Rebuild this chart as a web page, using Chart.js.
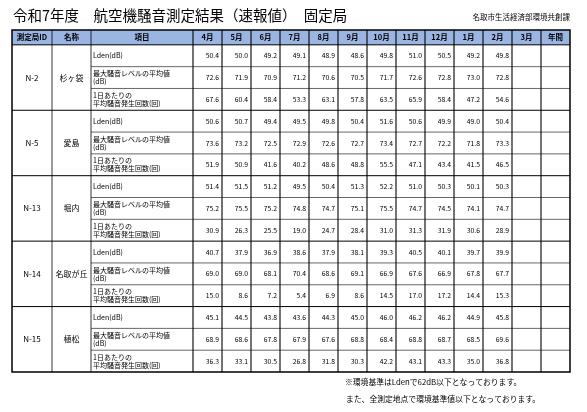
<!DOCTYPE html>
<html lang="ja">
<head>
<meta charset="UTF-8">
<title>航空機騒音測定結果</title>
<script src="https://cdn.jsdelivr.net/npm/chart.js"></script>
<style>
  body { margin: 0; background: #fff; }
  canvas { display: block; }
</style>
</head>
<body>
<canvas id="tbl" width="587" height="412"></canvas>
<script>
const title = '令和7年度　航空機騒音測定結果（速報値）　固定局';
const dept = '名取市生活経済部環境共創課';
const headers = ['測定局ID', '名称', '項目', '4月', '5月', '6月', '7月', '8月', '9月', '10月', '11月', '12月', '1月', '2月', '3月', '年間'];
const stationIds = ['N-2', 'N-5', 'N-13', 'N-14', 'N-15'];
const stationNames = ['杉ヶ袋', '愛島', '堀内', '名取が丘', '植松'];
const items = [['Lden(dB)'], ['最大騒音レベルの平均値', '(dB)'], ['1日あたりの', '平均騒音発生回数(回)']];
const notes = ['※環境基準はLdenで62dB以下となっております。', 'また、全測定地点で環境基準値以下となっております。'];

const lden = [
  [50.4, 50.0, 49.2, 49.1, 48.9, 48.6, 49.8, 51.0, 50.5, 49.2, 49.8],
  [50.6, 50.7, 49.4, 49.5, 49.8, 50.4, 51.6, 50.6, 49.9, 49.0, 50.4],
  [51.4, 51.5, 51.2, 49.5, 50.4, 51.3, 52.2, 51.0, 50.3, 50.1, 50.3],
  [40.7, 37.9, 36.9, 38.6, 37.9, 38.1, 39.3, 40.5, 40.1, 39.7, 39.9],
  [45.1, 44.5, 43.8, 43.6, 44.3, 45.0, 46.0, 46.2, 46.2, 44.9, 45.8]
];
const maxLevel = [
  [72.6, 71.9, 70.9, 71.2, 70.6, 70.5, 71.7, 72.6, 72.8, 73.0, 72.8],
  [73.6, 73.2, 72.5, 72.9, 72.6, 72.7, 73.4, 72.7, 72.2, 71.8, 73.3],
  [75.2, 75.5, 75.2, 74.8, 74.7, 75.1, 75.5, 74.7, 74.5, 74.1, 74.7],
  [69.0, 69.0, 68.1, 70.4, 68.6, 69.1, 66.9, 67.6, 66.9, 67.8, 67.7],
  [68.9, 68.6, 67.8, 67.9, 67.6, 68.8, 68.4, 68.8, 68.7, 68.5, 69.6]
];
const dailyCount = [
  [67.6, 60.4, 58.4, 53.3, 63.1, 57.8, 63.5, 65.9, 58.4, 47.2, 54.6],
  [51.9, 50.9, 41.6, 40.2, 48.6, 48.8, 55.5, 47.1, 43.4, 41.5, 46.5],
  [30.9, 26.3, 25.5, 19.0, 24.7, 28.4, 31.0, 31.3, 31.9, 30.6, 28.9],
  [15.0, 8.6, 7.2, 5.4, 6.9, 8.6, 14.5, 17.0, 17.2, 14.4, 15.3],
  [36.3, 33.1, 30.5, 26.8, 31.8, 30.3, 42.2, 43.1, 43.3, 35.0, 36.8]
];

// column edges in table units (x scale), rows: 0 = header, 1..15 = data (y scale)
const colEdges = [0, 40, 79, 181];
for (let i = 1; i <= 13; i++) colEdges.push(181 + i * 29);
const HEAD = 0.68; // header row height in row units

const FONT = '"Noto Sans CJK JP", sans-serif';

const tablePlugin = {
  id: 'tablePlugin',
  afterDraw(chart) {
    const ctx = chart.ctx;
    const xs = chart.scales.x, ys = chart.scales.y;
    const X = v => xs.getPixelForValue(v);
    const Y = v => ys.getPixelForValue(v);
    const left = X(0), right = X(colEdges[colEdges.length - 1]);
    const top = Y(-HEAD), bottom = Y(15);
    ctx.save();
    // title
    ctx.fillStyle = '#000';
    ctx.textBaseline = 'middle';
    ctx.font = '14.5px ' + FONT;
    ctx.fillText(title, 13, 15);
    ctx.font = '7.5px ' + FONT;
    ctx.textAlign = 'right';
    ctx.fillText(dept, 570, 17);
    // header background
    ctx.fillStyle = '#9bb5e3';
    ctx.fillRect(left, top, right - left, Y(0) - top);
    // header text
    ctx.fillStyle = '#000';
    ctx.textAlign = 'center';
    ctx.font = 'bold 7.5px ' + FONT;
    headers.forEach((h, i) => {
      ctx.fillText(h, (X(colEdges[i]) + X(colEdges[i + 1])) / 2, (top + Y(0)) / 2);
    });
    // body
    stationIds.forEach((id, s) => {
      const r0 = s * 3;
      const cy = (Y(r0) + Y(r0 + 3)) / 2;
      ctx.font = '8px ' + FONT;
      ctx.textAlign = 'center';
      ctx.fillText(id, (X(colEdges[0]) + X(colEdges[1])) / 2, cy);
      ctx.fillText(stationNames[s], (X(colEdges[1]) + X(colEdges[2])) / 2, cy);
      const series = [lden[s], maxLevel[s], dailyCount[s]];
      items.forEach((lines, k) => {
        const ry = (Y(r0 + k) + Y(r0 + k + 1)) / 2;
        ctx.font = '7px ' + FONT;
        ctx.textAlign = 'left';
        lines.forEach((t, li) => {
          ctx.fillText(t, X(colEdges[2]) + 2, ry + (li - (lines.length - 1) / 2) * 8);
        });
        ctx.font = '6.8px ' + FONT;
        ctx.textAlign = 'right';
        series[k].forEach((v, m) => {
          ctx.fillText(v.toFixed(1), X(colEdges[4 + m]) - 3, ry);
        });
      });
    });
    // grid lines
    ctx.strokeStyle = '#000';
    ctx.lineWidth = 0.6;
    for (let r = 1; r < 15; r++) {
      if (r % 3 === 0) continue;
      ctx.beginPath();
      ctx.moveTo(X(colEdges[2]), Y(r));
      ctx.lineTo(right, Y(r));
      ctx.stroke();
    }
    ctx.lineWidth = 1;
    for (let r = 0; r < 15; r += 3) {
      ctx.beginPath();
      ctx.moveTo(left, Y(r));
      ctx.lineTo(right, Y(r));
      ctx.stroke();
    }
    colEdges.forEach((c, i) => {
      if (i === 0 || i === colEdges.length - 1) return;
      ctx.lineWidth = i >= 3 ? 1.1 : 0.8;
      ctx.beginPath();
      ctx.moveTo(X(c), top);
      ctx.lineTo(X(c), bottom);
      ctx.stroke();
    });
    ctx.lineWidth = 1.5;
    ctx.strokeRect(left, top, right - left, bottom - top);
    // notes
    ctx.font = '7.8px ' + FONT;
    ctx.textAlign = 'left';
    ctx.fillText(notes[0], 345, 382);
    ctx.fillText(notes[1], 346, 399);
    ctx.restore();
  }
};

new Chart(document.getElementById('tbl'), {
  type: 'scatter',
  data: { datasets: [{ data: [] }] },
  options: {
    responsive: false,
    animation: false,
    layout: { padding: { left: 12, right: 17, top: 30, bottom: 40 } },
    plugins: { legend: { display: false }, tooltip: { enabled: false } },
    scales: {
      x: { type: 'linear', display: false, min: 0, max: colEdges[colEdges.length - 1] },
      y: { type: 'linear', display: false, min: -HEAD, max: 15, reverse: true }
    }
  },
  plugins: [tablePlugin]
});
</script>
</body>
</html>
